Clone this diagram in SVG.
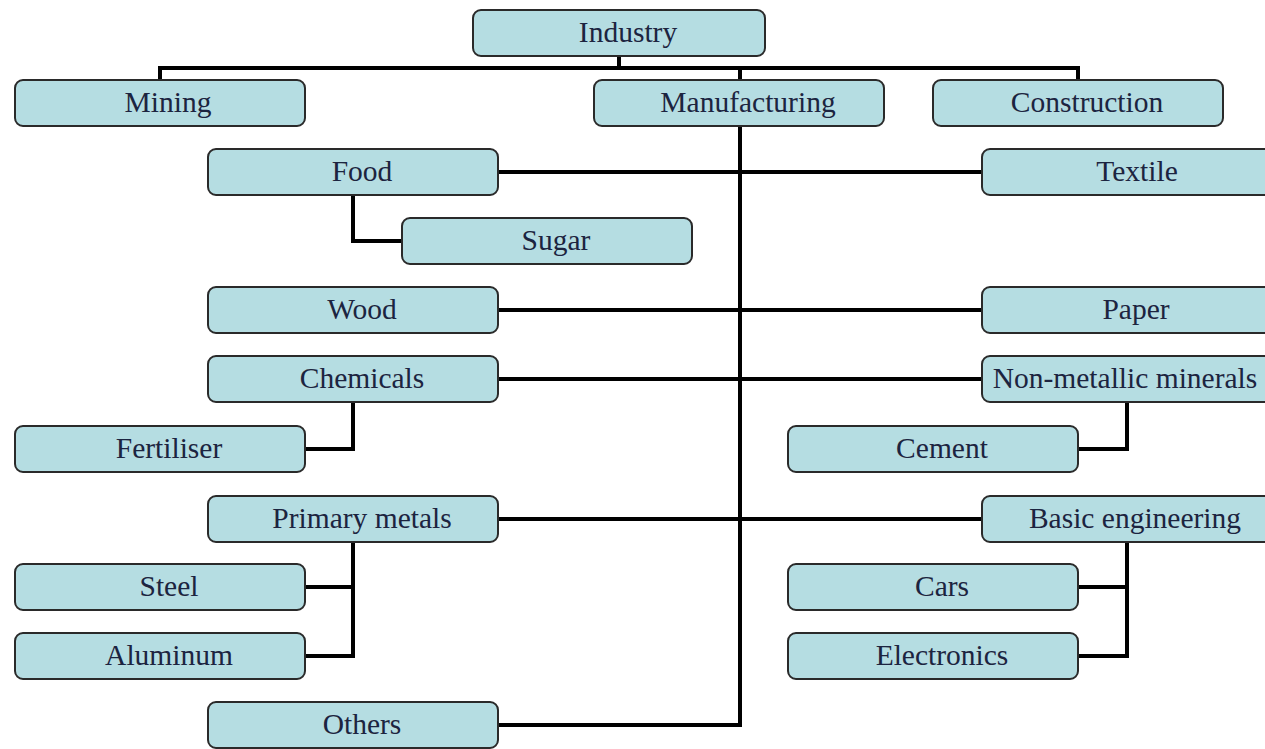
<svg xmlns="http://www.w3.org/2000/svg" width="1265" height="749" viewBox="0 0 1265 749">
<style>
.n rect{fill:#b5dde2;stroke:#2a2a2a;stroke-width:2}
.n text{font-family:"Liberation Serif","Times New Roman",serif;font-size:29.5px;fill:#1c2440;text-anchor:middle;dominant-baseline:central}
.c path{fill:none;stroke:#000;stroke-width:4}
</style>
<rect width="1265" height="749" fill="#fff"/>
<g class="c">
<path d="M619 56V68M160 80V68H1078V80M740 68V80"/>
<path d="M740 126V725H498"/>
<path d="M498 172H982M498 310H982M498 379H982M498 519H982"/>
<path d="M353 195V241H402"/>
<path d="M353 402V449H305"/>
<path d="M1127 402V449H1078"/>
<path d="M353 542V656H305M305 587H353"/>
<path d="M1127 542V656H1078M1078 587H1127"/>
</g>
<g id="industry" class="n"><rect x="473" y="10" width="292" height="46" rx="8"/><text x="628" y="32">Industry</text></g>
<g id="mining" class="n"><rect x="15" y="80" width="290" height="46" rx="8"/><text x="168" y="102">Mining</text></g>
<g id="manufacturing" class="n"><rect x="594" y="80" width="290" height="46" rx="8"/><text x="748" y="102">Manufacturing</text></g>
<g id="construction" class="n"><rect x="933" y="80" width="290" height="46" rx="8"/><text x="1087" y="102">Construction</text></g>
<g id="food" class="n"><rect x="208" y="149" width="290" height="46" rx="8"/><text x="362" y="171">Food</text></g>
<g id="textile" class="n"><rect x="982" y="149" width="290" height="46" rx="8"/><text x="1137" y="171">Textile</text></g>
<g id="sugar" class="n"><rect x="402" y="218" width="290" height="46" rx="8"/><text x="556" y="240">Sugar</text></g>
<g id="wood" class="n"><rect x="208" y="287" width="290" height="46" rx="8"/><text x="362" y="309">Wood</text></g>
<g id="paper" class="n"><rect x="982" y="287" width="290" height="46" rx="8"/><text x="1136" y="309">Paper</text></g>
<g id="chemicals" class="n"><rect x="208" y="356" width="290" height="46" rx="8"/><text x="362" y="378">Chemicals</text></g>
<g id="nonmetallic" class="n"><rect x="982" y="356" width="290" height="46" rx="8"/><text x="1125" y="378">Non-metallic minerals</text></g>
<g id="fertiliser" class="n"><rect x="15" y="426" width="290" height="46" rx="8"/><text x="169" y="448">Fertiliser</text></g>
<g id="cement" class="n"><rect x="788" y="426" width="290" height="46" rx="8"/><text x="942" y="448">Cement</text></g>
<g id="primary" class="n"><rect x="208" y="496" width="290" height="46" rx="8"/><text x="362" y="518">Primary metals</text></g>
<g id="basic" class="n"><rect x="982" y="496" width="290" height="46" rx="8"/><text x="1135" y="518">Basic engineering</text></g>
<g id="steel" class="n"><rect x="15" y="564" width="290" height="46" rx="8"/><text x="169" y="586">Steel</text></g>
<g id="cars" class="n"><rect x="788" y="564" width="290" height="46" rx="8"/><text x="942" y="586">Cars</text></g>
<g id="aluminum" class="n"><rect x="15" y="633" width="290" height="46" rx="8"/><text x="169" y="655">Aluminum</text></g>
<g id="electronics" class="n"><rect x="788" y="633" width="290" height="46" rx="8"/><text x="942" y="655">Electronics</text></g>
<g id="others" class="n"><rect x="208" y="702" width="290" height="46" rx="8"/><text x="362" y="724">Others</text></g>
</svg>
